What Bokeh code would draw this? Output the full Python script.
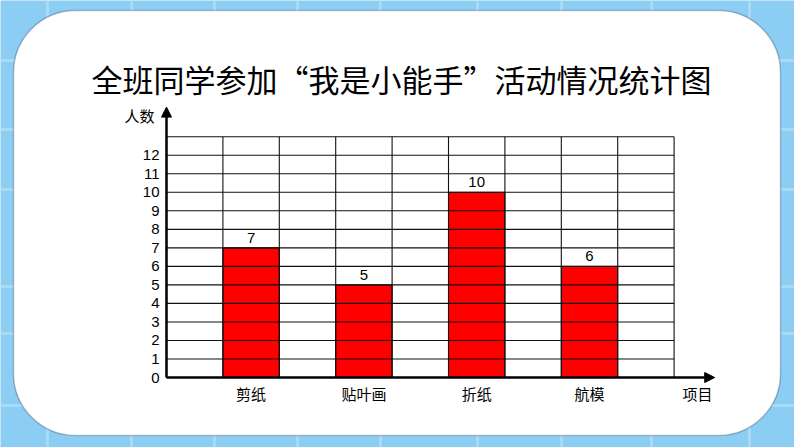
from bokeh.plotting import figure
from bokeh.models import Range1d, BoxAnnotation, Label, Arrow, NormalHead
from bokeh.core.properties import value
from bokeh.embed import file_html
from bokeh.resources import INLINE

# ---- data ----
title_text = "全班同学参加“我是小能手”活动情况统计图"
categories = ["剪纸", "贴叶画", "折纸", "航模"]
counts = [7, 5, 10, 6]
y_ticks = [0, 1, 2, 3, 4, 5, 6, 7, 8, 9, 10, 11, 12]
y_axis_title = "人数"
x_axis_title = "项目"

# derived positions in data units: each category occupies every second column
n_cols = 2 * len(categories) + 1
grid_top = y_ticks[-1] + 1
bar_x = [2 * i + 1.5 for i in range(len(categories))]

# ---- layout (pixels) ----
W, H = 794, 447
X0, Y0 = 166, 377          # pixel position of data origin
PX_X, PX_Y = 56.4, 18.52   # pixels per data unit

BLUE = "#8ccdf4"
LIGHT = "#a6daf7"

p = figure(width=W, height=H, output_backend="svg", toolbar_location=None,
           x_range=Range1d(-X0 / PX_X, (W - X0) / PX_X),
           y_range=Range1d(-(H - Y0) / PX_Y, Y0 / PX_Y),
           x_axis_location=None, y_axis_location=None,
           min_border=0)
p.border_fill_color = BLUE
p.background_fill_color = BLUE
p.outline_line_color = None
p.xgrid.visible = False
p.ygrid.visible = False


def sbox(l, r, t, b, **kw):
    # image pixel box -> screen units (from bottom-left)
    return BoxAnnotation(left=l, right=r, top=H - t, bottom=H - b,
                         left_units="screen", right_units="screen",
                         top_units="screen", bottom_units="screen", **kw)


# background light stripes
for X in [47, 131, 214, 297, 380, 477, 561, 651, 749]:
    p.add_layout(sbox(X - 1.5, X + 1.5, 0, H, fill_color=LIGHT, fill_alpha=1,
                      line_color=None, level="underlay"))
for Y in [60, 129, 189, 286, 333, 405]:
    p.add_layout(sbox(0, W, Y - 1.5, Y + 1.5, fill_color=LIGHT, fill_alpha=1,
                      line_color=None, level="underlay"))

# white rounded panel
p.add_layout(sbox(13, 780, 10, 435, fill_color="white", fill_alpha=1, line_color="#1c3550",
                  line_width=1.5, border_radius=62, level="underlay"))

# bars
p.vbar(x=bar_x, top=counts, width=1, bottom=0, fill_color="#ff0000",
       line_color="black", line_width=1)

# grid cells
rows = list(range(grid_top + 1))
cols = list(range(n_cols + 1))
p.segment(x0=[0] * len(rows), y0=rows, x1=[n_cols] * len(rows), y1=rows,
          line_color="#111111", line_width=1.1)
p.segment(x0=cols, y0=[0] * len(cols), x1=cols, y1=[grid_top] * len(cols),
          line_color="#111111", line_width=1.1)

# value labels
p.text(x=bar_x, y=counts, text=[str(c) for c in counts], y_offset=-5,
       text_align="center", text_baseline="bottom",
       text_font=value("Liberation Sans"), text_font_size="15px", text_color="black")

# y tick labels
p.text(x=[0] * len(y_ticks), y=y_ticks, text=[str(t) for t in y_ticks], x_offset=-7,
       text_align="right", text_baseline="middle",
       text_font=value("Liberation Sans"), text_font_size="15px", text_color="black")

# category labels
p.text(x=bar_x, y=[0] * len(bar_x), text=categories, y_offset=5,
       text_align="center", text_baseline="top",
       text_font=value("Noto Sans CJK SC"), text_font_size="15px", text_color="black")

# axes arrows
p.add_layout(Arrow(end=NormalHead(size=10, fill_color="black", line_color="black"),
                   x_start=0, y_start=0, x_end=9.72, y_end=0, line_width=2.5, line_color="black"))
p.add_layout(Arrow(end=NormalHead(size=10, fill_color="black", line_color="black"),
                   x_start=0, y_start=0, x_end=0, y_end=14.6, line_width=2.5, line_color="black"))

# texts
p.add_layout(Label(x=401, y=H - 78, x_units="screen", y_units="screen", text=title_text,
                   text_align="center", text_baseline="middle",
                   text_font="Noto Sans CJK SC", text_font_size="31px", text_color="black"))
p.add_layout(Label(x=139, y=H - 115, x_units="screen", y_units="screen", text=y_axis_title,
                   text_align="center", text_baseline="middle",
                   text_font="Noto Sans CJK SC", text_font_size="15px", text_color="black"))
p.add_layout(Label(x=697, y=H - 393, x_units="screen", y_units="screen", text=x_axis_title,
                   text_align="center", text_baseline="middle",
                   text_font="Noto Sans CJK SC", text_font_size="15px", text_color="black"))

open("out.html", "w").write(file_html(p, INLINE))
